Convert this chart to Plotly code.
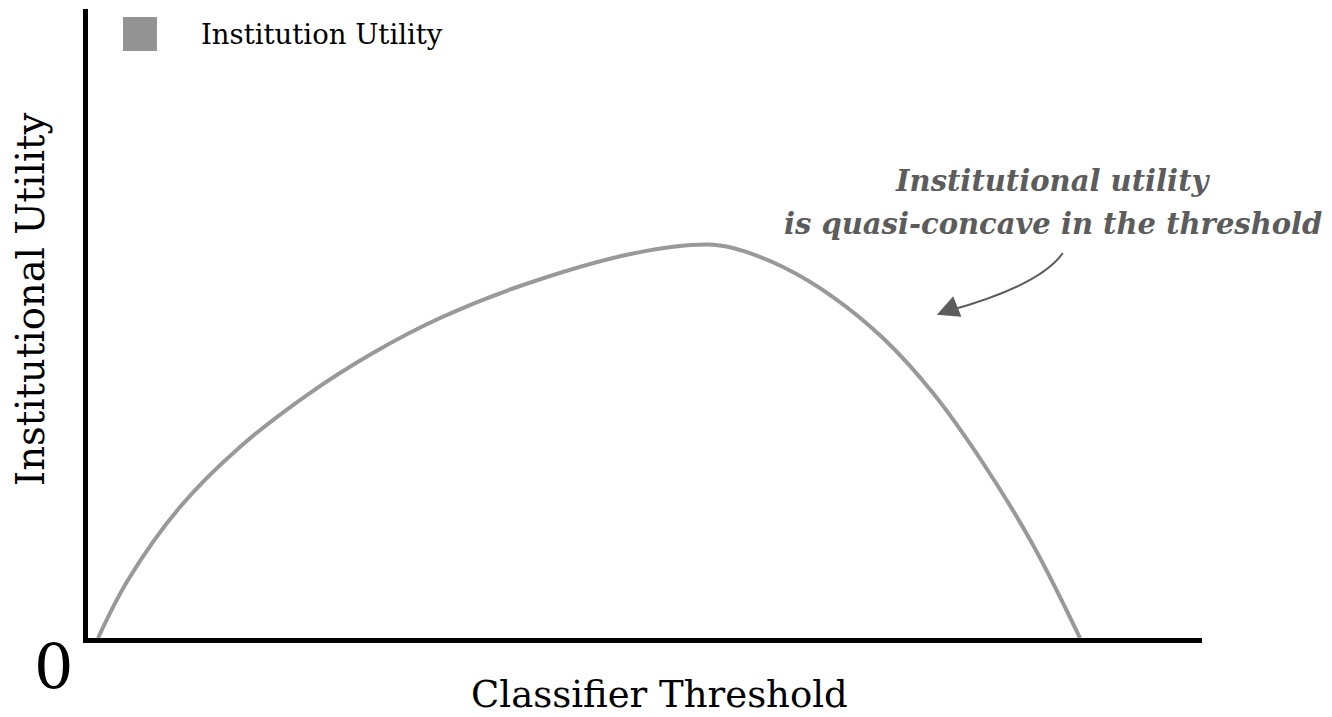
import plotly.graph_objects as go

# Classifier threshold (x, 0-100 scale) and institutional utility (y, 0-100 scale)
threshold = [0.90, 3.59, 8.26, 13.64, 19.66, 25.58, 31.60, 38.78, 48.92,
             55.57, 57.90, 62.39, 66.88, 71.36, 75.85, 80.34, 84.83, 89.05]
utility = [0.00, 9.22, 20.83, 30.37, 38.63, 45.31, 50.87, 55.96, 61.13,
           62.56, 62.00, 58.98, 54.21, 47.69, 38.95, 27.82, 14.79, 0.00]

series_name = "Institution Utility"
x_label = "Classifier Threshold"
y_label = "Institutional Utility"
origin_label = "0"
note_lines = ["Institutional utility", "is quasi-concave in the threshold"]

FONT = "DejaVu Serif, serif"
CURVE = "#999999"
NOTE = "#5c5c5c"

fig = go.Figure()
fig.add_trace(go.Scatter(
    x=threshold, y=utility, mode="lines", name=series_name,
    line=dict(color=CURVE, width=4, shape="spline", smoothing=1.0),
    showlegend=False, hoverinfo="skip", cliponaxis=False,
))

shapes = [
    # legend key
    dict(type="rect", xref="paper", yref="paper", x0=0.0314, x1=0.0619,
         y0=0.9332, y1=0.9873, fillcolor="#939393", line=dict(width=0)),
    # curved arrow stem
    dict(type="path", xref="x", yref="y",
         path="M 87.5,61.2 Q 85.5,56.1 77.4,52.1",
         line=dict(color=NOTE, width=2)),
]

annotations = [
    dict(x=0.0996, y=0.9603, xref="paper", yref="paper", text=series_name,
         showarrow=False, xanchor="left", yanchor="middle",
         font=dict(family=FONT, size=27.5, color="black")),
    dict(x=0.8662, y=0.7260, xref="paper", yref="paper",
         text="<b><i>%s</i></b>" % note_lines[0],
         showarrow=False, xanchor="center", yanchor="middle",
         font=dict(family=FONT, size=29, color=NOTE)),
    dict(x=0.8662, y=0.6580, xref="paper", yref="paper",
         text="<b><i>%s</i></b>" % note_lines[1],
         showarrow=False, xanchor="center", yanchor="middle",
         font=dict(family=FONT, size=29, color=NOTE)),
    dict(x=76.2, y=51.4, xref="x", yref="y", text="", showarrow=True,
         ax=15, ay=-6, arrowhead=2, arrowsize=2.2, arrowwidth=2, arrowcolor=NOTE,
         standoff=0),
    dict(x=0.5126, y=-0.0906, xref="paper", yref="paper", text=x_label,
         showarrow=False, xanchor="center", yanchor="middle",
         font=dict(family=FONT, size=37, color="black")),
    dict(x=-0.0512, y=0.5390, xref="paper", yref="paper", text=y_label,
         showarrow=False, textangle=-90, xanchor="center", yanchor="middle",
         font=dict(family=FONT, size=38.5, color="black")),
    dict(x=-0.0314, y=-0.0461, xref="paper", yref="paper", text=origin_label,
         showarrow=False, xanchor="center", yanchor="middle",
         font=dict(family=FONT, size=62, color="black")),
]

fig.update_layout(
    width=1332, height=717,
    margin=dict(l=88, r=130, t=9, b=79),
    paper_bgcolor="white", plot_bgcolor="white",
    showlegend=False,
    xaxis=dict(range=[0, 100], showgrid=False, zeroline=False, showticklabels=False,
               ticks="", showline=True, linewidth=5, linecolor="black", fixedrange=True),
    yaxis=dict(range=[0, 100], showgrid=False, zeroline=False, showticklabels=False,
               ticks="", showline=True, linewidth=5, linecolor="black", fixedrange=True),
    shapes=shapes,
    annotations=annotations,
)

fig.write_html("out.html", config={"displayModeBar": False},
               post_script="document.body.style.margin='0';")
